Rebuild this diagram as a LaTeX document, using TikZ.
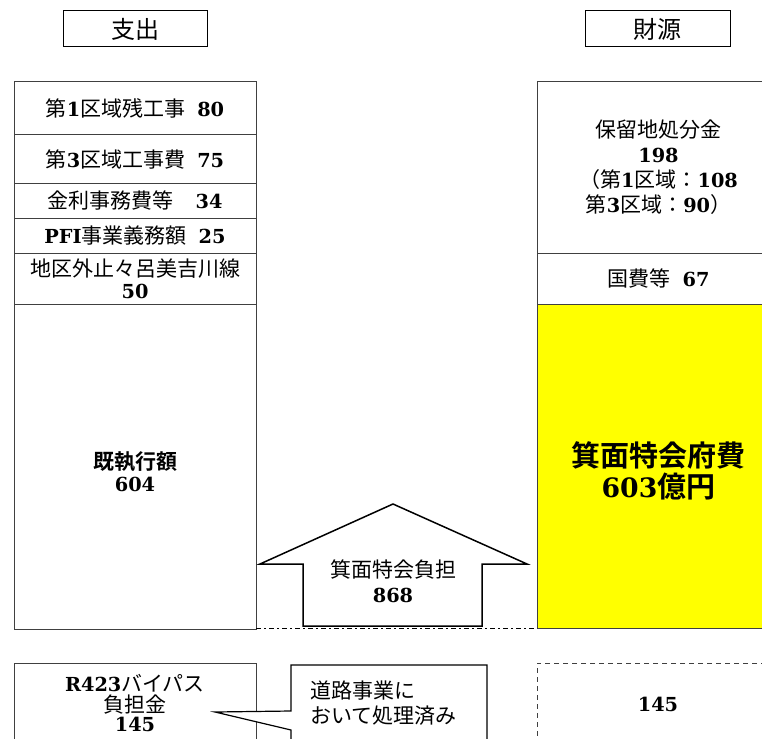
\documentclass[tikz,border=0pt]{standalone}
\usepackage{fontspec}
\newfontfamily\jp[BoldFont={Noto Sans CJK JP Bold}]{Noto Sans CJK JP}
\newfontfamily\numf[Scale=0.92]{DejaVu Serif Bold}
\newcommand\nb[1]{{\numf #1}}
\definecolor{edge}{HTML}{404040}
\definecolor{hilite}{HTML}{FFFF00}
\tikzset{
  cell/.style={draw=edge, line width=1pt, fill=white, inner sep=0pt, align=center,
    font=\jp\fontsize{21}{25}\selectfont},
  headbox/.style={draw=black, line width=1pt, inner sep=0pt,
    font=\jp\fontsize{24}{28}\selectfont},
  plain/.style={inner sep=0pt, align=center, font=\jp\fontsize{21}{25}\selectfont},
  bigarrow/.style={draw=black, line width=1.5pt, fill=white, line join=miter},
}
\begin{document}
\begin{tikzpicture}[x=1pt,y=-1pt]
\useasboundingbox (0,0) rectangle (762,738);
\clip (0,0) rectangle (762,738);

% headers
\node[headbox, minimum width=144, minimum height=36] (hL) at (135,29) {支出};
\node[headbox, minimum width=145, minimum height=36] (hR) at (657.5,29) {財源};

% expenditure column
\node[cell, minimum width=242, minimum height=53] (r1) at (135,108.5) {第\nb{1}区域残工事\hspace{12pt}\nb{80}};
\node[cell, minimum width=242, minimum height=48] (r2) at (135,159) {第\nb{3}区域工事費\hspace{12pt}\nb{75}};
\node[cell, minimum width=242, minimum height=35] (r3) at (135,200.5) {金利事務費等\hspace{22pt}\nb{34}};
\node[cell, minimum width=242, minimum height=35] (r4) at (135,235.5) {\nb{PFI}事業義務額\hspace{12pt}\nb{25}};
\node[cell, minimum width=242, minimum height=51] (r5) at (135,278.5) {地区外止々呂美吉川線\\[-3pt]\nb{50}};
\node[cell, minimum width=242, minimum height=325] (r6) at (135,466.5) {};
\node[plain] (r6txt) at (135,472) {\bfseries 既執行額\\[-3pt]\nb{604}};

% revenue column
\node[cell, minimum width=243, minimum height=171] (s1) at (658.5,167.5) {保留地処分金\\\nb{198}\\（第\nb{1}区域：\nb{108}\\第\nb{3}区域：\nb{90}）};
\node[cell, minimum width=243, minimum height=51] (s2) at (658.5,278.5) {国費等\hspace{12pt}\nb{67}};
\node[cell, fill=hilite, minimum width=243, minimum height=324] (s3) at (658.5,466) {};
\node[plain, font=\jp\bfseries\fontsize{29}{32}\selectfont] (s3txt) at (658.5,471) {箕面特会府費\\[-1pt]\nb{603}億円};

% dash-dot base line
\coordinate (dl) at (256,628.5);
\coordinate (dr) at (537,628.5);
\draw[black, line width=1.3pt, dash pattern=on 5pt off 3pt on 2pt off 3pt] (dl) -- (dr);

% big arrow
\draw[bigarrow] (303,626) -- (303,564) -- (260,564) -- (393,504) -- (527,564) -- (482,564) -- (482,626) -- cycle;
\node[plain] (arrowtxt) at (393,581) {箕面特会負担\\\nb{868}};

% bottom: bypass box
\node[cell, minimum width=242, minimum height=110] (b1) at (135,718) {};
\node[plain] (b1txt) at (135,703) {\nb{R423}バイパス\\[-4pt]負担金\\[-6pt]\nb{145}};

% callout
\draw[draw=black, line width=1.2pt, fill=white, line join=miter]
  (291,665) -- (487,665) -- (487,770) -- (291,770) -- (291,730) -- (215,712) -- (291,711) -- cycle;
\node[plain, align=left, anchor=west] (note) at (310,703.5) {道路事業に\\おいて処理済み};

% dashed box
\node[draw=edge, dash pattern=on 5pt off 4pt, line width=1pt, inner sep=0pt,
      minimum width=253, minimum height=110] (b2) at (663.5,718) {};
\node[plain] (b2txt) at (658,704) {\nb{145}};
\end{tikzpicture}
\end{document}
